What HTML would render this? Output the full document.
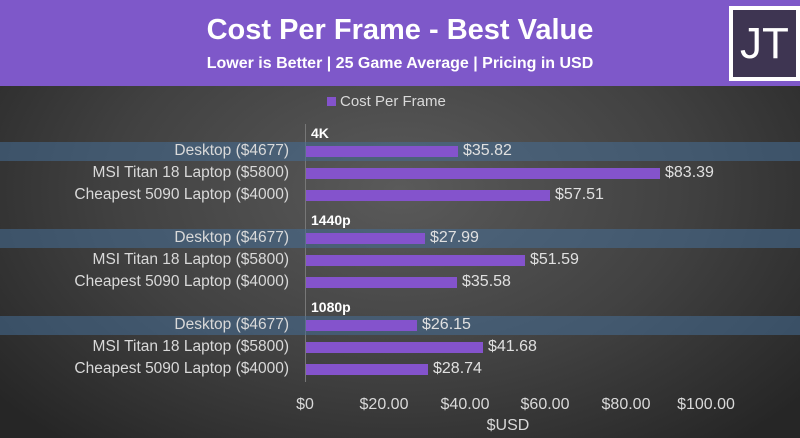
<!DOCTYPE html>
<html><head><meta charset="utf-8"><style>
body{margin:0;width:800px;height:438px;overflow:hidden;font-family:"Liberation Sans",sans-serif;}
#bg{position:absolute;left:0;top:0;width:800px;height:438px;background:radial-gradient(ellipse 520px 330px at 400px 190px,#5a5a5a 0%,#414141 55%,#262626 100%);}
#hdr{position:absolute;left:0;top:0;width:800px;height:86px;background:#7e58c9;}
.t{position:absolute;white-space:nowrap;}
.lbl{position:absolute;right:511px;color:#d9d9d9;font-size:15.5px;white-space:nowrap;line-height:18px;}
.bar{position:absolute;left:306px;height:11px;background:#8453cc;}
.val{position:absolute;color:#e0e0e0;font-size:16px;line-height:18px;}
.band{position:absolute;left:0;width:800px;height:19px;background:rgba(70,110,150,0.55);}
.grp{position:absolute;left:311px;color:#fff;font-weight:bold;font-size:14px;}
.tick{position:absolute;top:396px;color:#d9d9d9;font-size:16px;transform:translateX(-50%);}
</style></head><body>
<div id="bg"></div>
<div id="hdr"></div>
<div class="t" style="left:0;width:800px;text-align:center;top:14px;color:#fff;font-weight:bold;font-size:29px;">Cost Per Frame - Best Value</div>
<div class="t" style="left:0;width:800px;text-align:center;top:55px;color:#fff;font-weight:bold;font-size:16px;">Lower is Better | 25 Game Average | Pricing in USD</div>
<div style="position:absolute;left:729px;top:6px;width:63px;height:67px;border:4px solid #fff;background:#3e3552;color:#fff;font-size:44px;text-align:center;line-height:67px;">JT</div>
<div style="position:absolute;left:327px;top:97px;width:9px;height:9px;background:#8453cc"></div>
<div class="t" style="left:340px;top:93px;color:#d9d9d9;font-size:15px;">Cost Per Frame</div>
<div style="position:absolute;left:305px;top:124px;width:1px;height:258px;background:#777"></div>
<div class="band" style="top:142px"></div>
<div class="band" style="top:229px"></div>
<div class="band" style="top:316px"></div>
<div class="grp" style="top:125px">4K</div>
<div class="grp" style="top:212px">1440p</div>
<div class="grp" style="top:299px">1080p</div>

<div class="lbl" style="top:142px">Desktop ($4677)</div>
<div class="lbl" style="top:164px">MSI Titan 18 Laptop ($5800)</div>
<div class="lbl" style="top:186px">Cheapest 5090 Laptop ($4000)</div>
<div class="lbl" style="top:229px">Desktop ($4677)</div>
<div class="lbl" style="top:251px">MSI Titan 18 Laptop ($5800)</div>
<div class="lbl" style="top:273px">Cheapest 5090 Laptop ($4000)</div>
<div class="lbl" style="top:316px">Desktop ($4677)</div>
<div class="lbl" style="top:338px">MSI Titan 18 Laptop ($5800)</div>
<div class="lbl" style="top:360px">Cheapest 5090 Laptop ($4000)</div>

<div class="bar" style="top:146px;width:152px"></div><div class="val" style="top:142px;left:463px">$35.82</div>
<div class="bar" style="top:168px;width:354px"></div><div class="val" style="top:164px;left:665px">$83.39</div>
<div class="bar" style="top:190px;width:244px"></div><div class="val" style="top:186px;left:555px">$57.51</div>
<div class="bar" style="top:233px;width:119px"></div><div class="val" style="top:229px;left:430px">$27.99</div>
<div class="bar" style="top:255px;width:219px"></div><div class="val" style="top:251px;left:530px">$51.59</div>
<div class="bar" style="top:277px;width:151px"></div><div class="val" style="top:273px;left:462px">$35.58</div>
<div class="bar" style="top:320px;width:111px"></div><div class="val" style="top:316px;left:422px">$26.15</div>
<div class="bar" style="top:342px;width:177px"></div><div class="val" style="top:338px;left:488px">$41.68</div>
<div class="bar" style="top:364px;width:122px"></div><div class="val" style="top:360px;left:433px">$28.74</div>

<div class="tick" style="left:305px">$0</div>
<div class="tick" style="left:384px">$20.00</div>
<div class="tick" style="left:465px">$40.00</div>
<div class="tick" style="left:545px">$60.00</div>
<div class="tick" style="left:626px">$80.00</div>
<div class="tick" style="left:706px">$100.00</div>
<div class="tick" style="left:508px;top:417px">$USD</div>
</body></html>
